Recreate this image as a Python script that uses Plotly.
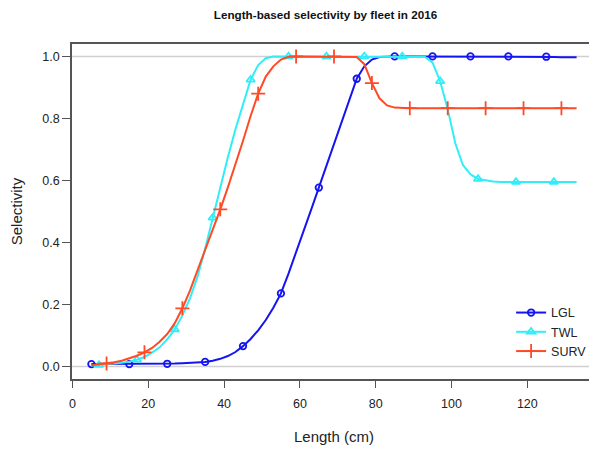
import plotly.graph_objects as go

# Length bins (cm)
lengths = list(range(5, 134, 2))

lgl = [0.008, 0.008, 0.008, 0.008, 0.008, 0.008, 0.008, 0.008, 0.009, 0.009,
       0.009, 0.010, 0.011, 0.012, 0.013, 0.015, 0.019, 0.025, 0.034, 0.047,
       0.066, 0.089, 0.117, 0.150, 0.190, 0.236, 0.300, 0.367, 0.437, 0.507,
       0.577, 0.648, 0.718, 0.790, 0.860, 0.928, 0.968, 0.990, 0.998, 1.0,
       1.0, 1.0, 1.0, 1.0, 1.0, 1.0, 1.0, 1.0, 1.0, 1.0,
       1.0, 1.0, 1.0, 1.0, 1.0, 1.0, 1.0, 1.0, 1.0, 1.0,
       0.999, 0.998, 0.997, 0.997, 0.997]

twl = [0.003, 0.005, 0.007, 0.009, 0.012, 0.016, 0.022, 0.031, 0.045, 0.062,
       0.088, 0.120, 0.165, 0.220, 0.290, 0.380, 0.480, 0.580, 0.675, 0.765,
       0.845, 0.925, 0.972, 0.994, 1.0, 1.0, 1.0, 1.0, 1.0, 1.0,
       1.0, 1.0, 1.0, 1.0, 1.0, 1.0, 1.0, 1.0, 1.0, 1.0,
       1.0, 1.0, 1.0, 1.0, 0.998, 0.980, 0.920, 0.830, 0.720, 0.650,
       0.620, 0.605, 0.600, 0.597, 0.595, 0.595, 0.595, 0.595, 0.595, 0.595,
       0.595, 0.595, 0.595, 0.595, 0.595]

surv = [0.004, 0.007, 0.010, 0.014, 0.019, 0.026, 0.035, 0.046, 0.060, 0.080,
        0.105, 0.140, 0.188, 0.245, 0.310, 0.378, 0.443, 0.507, 0.578, 0.650,
        0.728, 0.808, 0.880, 0.935, 0.968, 0.990, 0.999, 1.0, 1.0, 1.0,
        1.0, 1.0, 1.0, 1.0, 1.0, 0.998, 0.975, 0.914, 0.865, 0.842,
        0.835, 0.833, 0.833, 0.833, 0.833, 0.833, 0.833, 0.833, 0.833, 0.833,
        0.833, 0.833, 0.833, 0.833, 0.833, 0.833, 0.833, 0.833, 0.833, 0.833,
        0.833, 0.833, 0.833, 0.833, 0.833]

fleet_names = ["LGL", "TWL", "SURV"]
fleet_colors = ["#1414F2", "#30EEF8", "#FF4A26"]
fleet_symbols = ["circle-open", "triangle-up-open", "cross-thin-open"]
fleet_sizes = [6.5, 7.5, 10]
marker_offsets = [0, 1, 2]  # markers every 5th bin

x_ticks = [0, 20, 40, 60, 80, 100, 120]
y_ticks = [0.0, 0.2, 0.4, 0.6, 0.8, 1.0]
y_ticklabels = ["0.0", "0.2", "0.4", "0.6", "0.8", "1.0"]

FONT = "Liberation Sans, Arial, sans-serif"
W, H = 589, 443  # page body has an 8px margin in the 597x451 window
fig = go.Figure()

# reference lines at 0 and 1
for yv in [0, 1]:
    fig.add_shape(type="line", xref="paper", x0=0, x1=1, yref="y", y0=yv, y1=yv,
                  line=dict(color="#D0D0D0", width=1.5), layer="below")

series = [lgl, twl, surv]
for name, vals, col, sym, sz, off in zip(fleet_names, series, fleet_colors,
                                          fleet_symbols, fleet_sizes, marker_offsets):
    fig.add_trace(go.Scatter(x=lengths, y=vals, mode="lines", name=name,
                             line=dict(color=col, width=2), showlegend=False,
                             hoverinfo="skip"))
    fig.add_trace(go.Scatter(x=lengths[off::5], y=vals[off::5], mode="markers",
                             name=name, showlegend=False,
                             marker=dict(symbol=sym, size=sz, color=col,
                                         line=dict(color=col, width=1.8))))

# legend entries (line + marker)
for name, col, sym, sz in zip(fleet_names, fleet_colors, fleet_symbols, fleet_sizes):
    fig.add_trace(go.Scatter(x=[None], y=[None], mode="lines+markers", name=name,
                             line=dict(color=col, width=2),
                             marker=dict(symbol=sym, size=sz, color=col,
                                         line=dict(color=col, width=1.8)),
                             showlegend=True))

fig.update_layout(
    width=W, height=H,
    margin=dict(l=64, r=1, t=36, b=72, autoexpand=False),
    paper_bgcolor="white", plot_bgcolor="white",
    font=dict(family=FONT, size=12.5, color="#222222"),
    title=dict(text="<b>Length-based selectivity by fleet in 2016</b>",
               x=285 / W, xanchor="center", xref="paper",
               y=1 - 6.5 / H, yanchor="middle", yref="container",
               font=dict(family=FONT, size=11.7, color="#111111")),
    showlegend=True,
    legend=dict(x=0.838, xanchor="left", y=0.242, yanchor="top",
                bgcolor="rgba(0,0,0,0)", borderwidth=0,
                font=dict(family=FONT, size=12.5, color="#222222"),
                tracegroupgap=0),
)

fig.update_xaxes(range=[-0.12, 138.12], tickvals=x_ticks, ticks="outside",
                 ticklen=7, tickwidth=1, tickcolor="#555555",
                 ticklabelstandoff=5,
                 showline=True, linecolor="#555555", linewidth=1.5, mirror=True,
                 showgrid=False, zeroline=False, automargin=False,
                 title=dict(text="Length (cm)", standoff=22),
                 tickfont=dict(size=12.5))
fig.update_yaxes(range=[-0.04, 1.04], tickvals=y_ticks, ticktext=y_ticklabels,
                 ticks="outside", ticklen=8, tickwidth=1, tickcolor="#555555",
                 showline=True, linecolor="#555555", linewidth=1.5, mirror=True,
                 showgrid=False, zeroline=False, automargin=False,
                 title=dict(text="Selectivity", standoff=19),
                 tickfont=dict(size=12.5))

fig.write_html("out.html")
